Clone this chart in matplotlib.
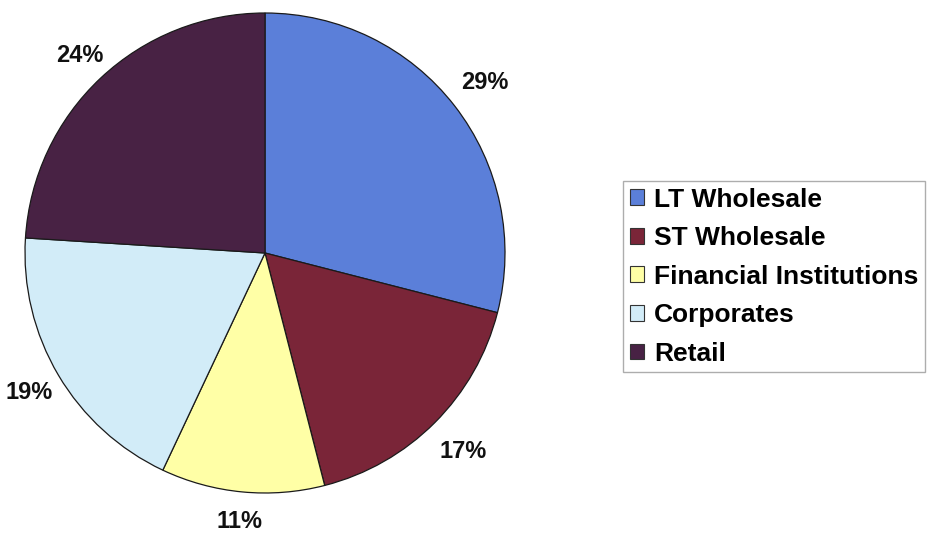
import numpy as np
import matplotlib.pyplot as plt

# segment shares (%)
segments = ['LT Wholesale', 'ST Wholesale', 'Financial Institutions', 'Corporates', 'Retail']
shares = [29, 17, 11, 19, 24]
colours = ['#5b7fd9', '#7a2538', '#ffffa6', '#d2ecf8', '#482244']

plt.rcParams['font.family'] = ['Liberation Sans', 'DejaVu Sans']
plt.rcParams['font.weight'] = 'bold'

W, H = 931, 536
fig = plt.figure(figsize=(W / 100, H / 100), dpi=100)

# pie centre and radius in pixels
cx, cy, r = 265, 253, 240
ax = fig.add_axes([(cx - r) / W, (H - cy - r) / H, 2 * r / W, 2 * r / H])

wedges, _ = ax.pie(shares, colors=colours, startangle=90, counterclock=False,
                   wedgeprops=dict(edgecolor='#1a1a1a', linewidth=0.9))

# percentage labels outside each wedge
label_r = [1.16, 1.17, 1.125, 1.14, 1.13]
for w, v, lr in zip(wedges, shares, label_r):
    ang = np.deg2rad((w.theta1 + w.theta2) / 2)
    ax.text(lr * np.cos(ang), lr * np.sin(ang), f'{v}%', ha='center', va='center',
            fontsize=17, fontweight='bold', color='#111111')

ax.set_xlim(-1, 1)
ax.set_ylim(-1, 1)
ax.set_aspect('equal')

leg = fig.legend(wedges, segments, loc='upper left',
                 bbox_to_anchor=(623 / W, 1 - 181 / H),
                 prop=dict(size=19, weight='bold'),
                 handlelength=0.53, handleheight=0.53, handletextpad=0.4,
                 labelspacing=0.55, borderpad=0.25, borderaxespad=0,
                 frameon=True, fancybox=False)
leg.get_frame().set_edgecolor('#999999')
leg.get_frame().set_linewidth(1.0)
for h in leg.legend_handles:
    h.set_edgecolor('#333333')
    h.set_linewidth(0.8)

fig.savefig('out.png', dpi=100)
